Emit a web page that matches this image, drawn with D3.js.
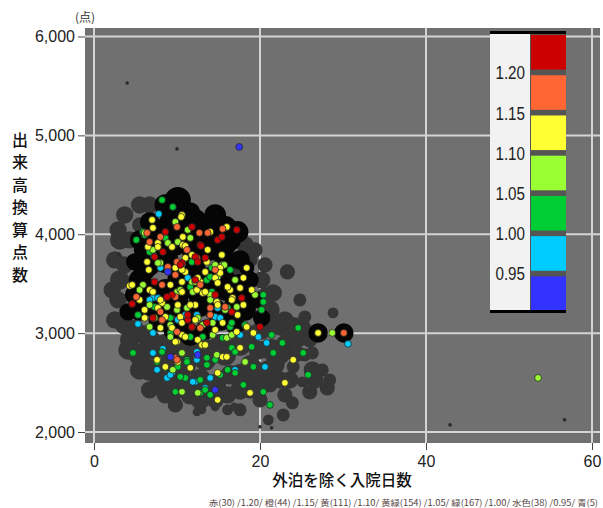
<!DOCTYPE html>
<html>
<head>
<meta charset="utf-8">
<script src="https://cdn.jsdelivr.net/npm/d3@7"></script>
<style>
body{margin:0;background:#fff;}
svg{display:block;font-family:"Liberation Sans",Arial,sans-serif;}
</style>
</head>
<body>
<svg id="chart" width="603" height="508"></svg>
<script>
// axis ticks
var xTicks = [0, 20, 40, 60];
var yTicks = [2000, 3000, 4000, 5000, 6000];

// legend
var legendColors = ["#cc0000", "#ff6633", "#ffff33", "#99ff33", "#00cc33", "#00ccff", "#3333ff"];
var legendBreaks = ["1.20", "1.15", "1.10", "1.05", "1.00", "0.95"];
var footnote = "赤(30) /1.20/ 橙(44) /1.15/ 黄(111) /1.10/ 黄緑(154) /1.05/ 緑(167) /1.00/ 水色(38) /0.95/ 青(5)";

// background bubbles [days, points, weight]
var grayBubbles = [
	[3.1,3943,81],[2.5,3740,64],[3.1,3538,81],[2.9,3336,64],[3.7,3083,81],[4.3,2932,81],[5.5,2780,100],
	[6.7,2628,100],[8.0,2477,100],[8.6,2376,64],[9.8,2426,81],[11.6,2376,81],[12.8,2325,81],[14.6,2325,64],
	[16.1,2376,64],[17.6,2426,81],[18.8,2426,64],[19.8,2477,100],[21.0,2628,81],[21.4,2830,100],[23.0,2881,81],
	[23.6,2982,64],[24.6,2932,49],[25.1,3053,64],[26.0,2932,49],[24.2,2780,49],[25.4,2780,36],[26.3,2628,64],
	[26.6,2527,64],[26.0,2406,49],[21.0,2123,25],[14.6,2254,16],[13.0,2224,16],[23.3,3619,49],[25.4,3164,36],
	[20.2,3033,81],[21.8,3083,64],[19.8,2830,81],[15.8,2780,100],[13.4,2730,100],[11.0,2679,100],[9.2,2730,81],
	[7.3,2830,81],[6.1,2982,81],[16.4,2578,81],[18.8,2679,81],[21.2,2477,49],[23.0,2376,49],[23.6,2527,64],
	[17.6,2224,36],[16.1,2224,25],[22.8,2173,36],[6.7,4296,64],[5.5,4094,49],[4.3,3943,64],[3.7,3690,64],
	[17.6,3640,49],[18.2,3892,64],[18.8,3740,49],[20.2,3538,64],[20.6,3387,49],[24.8,3336,36],[28.8,3205,25],
	[27.5,2628,36],[28.4,2527,36],[28.1,2446,49],[23.9,2295,36],[26.3,2800,36],[24.0,2659,36],[25.1,2507,25],
	[21.6,3406,64],[22.4,3063,64],[23.5,2962,64],[24.6,2790,49],[21.6,2527,49],[19.8,2466,49],[18.8,2406,36],
	[12.4,2203,16],[16.0,2224,16],[16.9,2254,16],
	[4.9,3033,81],[6.7,2932,100],[8.6,2881,100],[11.0,2830,100],[12.8,2881,100],[15.2,2881,100],[17.6,2881,100],
	[18.8,2982,81],[8.6,2629,100],[10.4,2527,100],[12.8,2527,100],[14.6,2477,100],[17.6,2578,100],[19.4,2629,81],
	[21.8,2679,81],[22.4,2527,64],[20.0,2325,49],[9.8,2274,49],[6.7,2426,64],[5.5,2628,81],[4.1,2830,81],
	[2.5,3134,64],[2.2,3437,64],[2.9,4044,64],[3.7,4195,64],[5.5,4296,64],[19.4,3842,49],[20.6,3690,49],
	[21.2,3235,81],[23.0,3134,64],[24.2,3083,49],[22.4,2780,81]
];
var blackBubbles = [
	[8.6,4296,100],[10.1,4347,144],[11.6,4226,81],[12.8,4064,100],[14.2,4024,81],[15.8,4064,121],[17.3,4024,100],
	[6.7,4125,81],[5.5,3943,81],[4.9,3720,64],[5.5,3538,100],[4.9,3387,81],[4.1,3215,64],[6.7,3285,100],
	[8.0,3134,121],[9.8,3033,121],[11.6,2982,100],[13.4,3033,81],[15.2,3134,100],[17.0,3285,100],[18.2,3387,81],
	[18.8,3538,64],[14.0,3538,144],[10.4,3538,144],[8.6,3740,144],[12.2,3791,144],[15.8,3720,100],[17.6,3740,81],
	[19.4,3336,64],[20.2,3154,64],[17.0,3083,81],[27.0,3002,81],[30.1,3002,81],[15.7,3872,100],[12.8,3912,100],
	[7.3,3943,100],[11.0,4044,100],[9.8,3336,144],[12.8,3285,121],[6.7,3690,100],[18.4,3660,49],
	[6.1,3842,100],[8.0,3892,100],[9.8,3892,100],[11.6,3892,100],[14.0,3842,100],[16.4,3943,100],[6.1,3640,100],
	[12.2,3640,100],[15.8,3538,100],[17.6,3488,100],[6.7,3437,100],[8.6,3437,100],[12.2,3437,100],[15.8,3437,100],
	[5.5,3235,100],[8.6,3235,100],[11.0,3184,100],[14.6,3235,100],[16.4,3184,100],[18.2,3235,100],[9.2,4195,100],
	[12.2,4145,100],[8.0,4044,100],[9.8,4044,100],[14.6,4195,100]
];
var tinyDots = [[4.0,5530],[10.0,4863],[42.9,2072],[56.7,2123],[21.4,2042],[20.0,2052],[3.0,3801]];

// coloured hospitals [days, points]
var red = [
	[8.6,4024],[11.8,4074],[14.9,3943],[15.4,3973],[17.2,4044],[8.3,3821],[12.8,3892],[13.4,3761],[7.3,3771],
	[10.6,3710],[12.2,3538],[17.8,3356],[16.6,3215],[9.4,3387],[4.6,3295],[11.3,3134],[13.6,3104],[20.0,3063],
	[7.1,3154],[11.3,3184],[11.8,3063],[12.9,3882],[12.2,3771],[8.8,3366],[10.4,3690],[14.6,3387],[7.3,3518],
	[12.5,3720]
];
var orange = [
	[6.4,4014],[10.0,4074],[12.7,4014],[13.7,4014],[15.5,4054],[6.7,3922],[11.2,3842],[12.4,3761],[8.9,3670],
	[9.8,3366],[5.1,3366],[15.8,3265],[8.0,3215],[12.8,3053],[30.1,3002],[8.2,3134],[14.0,3184],[10.0,3013],
	[9.8,2750],[10.0,2730],[8.0,3973],[10.0,3720],[14.0,3255],[9.8,3589],[12.8,3488],[14.6,3640],[8.2,3488]
];
var yellow = [
	[10.6,4195],[7.0,4145],[7.1,4064],[14.0,4024],[16.0,4074],[6.5,3872],[7.7,3912],[9.4,3872],[10.7,3892],
	[11.8,3791],[15.2,3660],[6.6,3640],[9.8,3660],[11.0,3619],[12.8,3518],[14.6,3559],[15.2,3609],[16.4,3437],
	[17.6,3457],[18.4,3660],[18.0,3559],[19.0,3437],[16.7,3356],[18.0,3285],[14.8,3316],[13.1,3407],[12.4,3437],
	[10.6,3417],[5.5,3336],[4.3,3478],[6.7,3437],[8.2,3305],[8.6,3164],[10.4,3164],[12.5,2932],[13.0,2881],
	[14.6,3033],[15.5,3104],[17.2,3013],[19.2,3002],[24.0,2730],[27.0,3002],[23.0,2497],[18.8,2396],[14.9,2325],
	[14.9,2598],[15.5,2760],[11.6,2649],[7.6,2730],[9.4,3053],[10.0,2912],[10.6,2982],[6.1,3154],[10.6,3104],
	[17.6,2851],[18.4,3063],[10.5,4175],[11.0,3882],[10.7,3973],[7.7,3255],[10.1,3285],[12.2,3285],[14.9,3285],
	[8.0,3053],[12.2,3134],[11.0,2962],[13.4,2881],[9.8,2912],[10.1,2709],[8.6,2659],[16.0,2760],[7.7,3872],
	[10.6,3640],[13.6,3720],[12.5,3559],[4.6,3488],[10.6,3518],[7.1,3417],[13.4,3417],[16.1,3467],
	[6.4,3720],[9.2,3488],[11.0,3761],[13.4,3619],[14.9,3508],[16.6,3336],[8.0,3336],[6.1,3235],[11.6,3285],
	[13.7,3842],[15.4,3791],[17.3,3184]
];
var yellowGreen = [
	[11.3,4044],[10.1,3922],[15.5,3690],[8.0,3710],[19.4,3387],[17.2,3265],[14.0,3387],[5.9,3488],[8.8,3265],
	[10.0,3235],[14.3,3104],[18.2,2709],[8.2,3134],[9.2,2962],[6.7,3063],[16.0,2952],[6.7,3285],[11.2,3255],
	[9.2,3083],[13.1,3083],[14.3,2982],[16.6,2982],[10.6,2800],[14.8,2780],[9.5,2629],[12.5,2396],[6.1,4014],
	[8.9,3912],[14.6,3690],[14.9,3569],[11.8,3518],[11.9,3417],[28.7,3002],[53.5,2547],[10.6,2406],[15.7,3690],
	[7.7,3710],[10.0,3417],[7.1,3842],[8.9,3640],[10.4,3437],[12.2,3518],[14.0,3336],[15.8,3235],[5.5,3437],
	[7.3,3154],[12.5,3154],[17.0,3538],[9.8,4125],[11.6,3963]
];
var green = [
	[8.2,4347],[9.5,4276],[5.9,4024],[5.1,3943],[6.7,3821],[14.2,3660],[13.6,3538],[11.6,3467],[7.3,3265],
	[11.8,3063],[13.1,2962],[16.4,3063],[20.4,3387],[20.4,3316],[20.2,3235],[21.4,2982],[22.7,2901],[21.6,2800],
	[24.6,3053],[25.2,2800],[25.8,2578],[21.2,2274],[20.4,2406],[18.0,2477],[12.8,2396],[13.4,2426],[11.0,2547],
	[17.0,2598],[19.2,2659],[14.6,2730],[13.6,2679],[11.2,2730],[10.1,2659],[8.6,2649],[8.2,2810],[4.7,2800],
	[11.6,2962],[5.3,3184],[16.6,2851],[19.0,2861],[16.1,3255],[16.6,3104],[9.2,3002],[15.5,2952],[11.2,2709],
	[13.6,2750],[17.0,2810],[7.6,2709],[10.4,2558],[12.8,2527],[15.2,2578],[16.1,2629],[9.8,2406],[14.0,2376],
	[11.8,3720],[14.0,3569],[14.2,3417],[6.1,3993],[8.6,3963],[16.4,3640],[9.2,3154],[18.2,3083]
];
var cyan = [
	[7.8,4205],[7.2,3781],[11.3,3559],[14.9,3255],[7.1,3356],[7.7,3356],[11.0,3184],[12.4,3184],[14.6,3164],
	[17.6,2982],[19.8,2962],[20.8,2901],[30.6,2891],[12.2,2507],[14.0,2547],[17.0,2629],[20.6,2659],[12.4,2730],
	[9.4,2598],[8.8,2547],[7.6,2629],[7.1,2800],[5.3,3093],[7.1,3002],[10.1,3134],[15.2,3154],[8.3,2841],
	[12.4,2810],[9.2,2578],[11.9,2507],[13.4,2446],[8.0,3660],[6.7,3336]
];
var blue = [[17.5,4883],[8.9,3619],[14.6,2426],[12.5,2780],[9.2,2760]];

var series = [
	{data: cyan, color: legendColors[5]},
	{data: green, color: legendColors[4]},
	{data: yellowGreen, color: legendColors[3]},
	{data: yellow, color: legendColors[2]},
	{data: orange, color: legendColors[1]},
	{data: red, color: legendColors[0]},
	{data: blue, color: legendColors[6]}
];

var svg = d3.select("#chart");
var panel = {left: 85, top: 28, right: 600, bottom: 443};

var x = d3.scaleLinear().domain([0, 60]).range([94, 592]);
var y = d3.scaleLinear().domain([2000, 6000]).range([432, 36.5]);
var r = d3.scaleSqrt().domain([0, 144]).range([0, 13]);

// panel
svg.append("rect")
	.attr("x", panel.left).attr("y", panel.top)
	.attr("width", panel.right - panel.left).attr("height", panel.bottom - panel.top)
	.attr("fill", "#707070");

svg.selectAll(".gx").data(xTicks).enter().append("line")
	.attr("class", "gx")
	.attr("x1", function (d) {return x(d);}).attr("x2", function (d) {return x(d);})
	.attr("y1", panel.top).attr("y2", panel.bottom)
	.attr("stroke", "#d4d4d4").attr("stroke-width", 2);

svg.selectAll(".gy").data(yTicks).enter().append("line")
	.attr("class", "gy")
	.attr("y1", function (d) {return y(d);}).attr("y2", function (d) {return y(d);})
	.attr("x1", panel.left).attr("x2", panel.right)
	.attr("stroke", "#d4d4d4").attr("stroke-width", 2);

// bubbles
svg.append("g").selectAll("circle").data(grayBubbles).enter().append("circle")
	.attr("cx", function (d) {return x(d[0]);})
	.attr("cy", function (d) {return y(d[1]);})
	.attr("r", function (d) {return r(d[2]);})
	.attr("fill", "#353535");

svg.append("g").selectAll("circle").data(blackBubbles).enter().append("circle")
	.attr("cx", function (d) {return x(d[0]);})
	.attr("cy", function (d) {return y(d[1]);})
	.attr("r", function (d) {return r(d[2]);})
	.attr("fill", "#050505");

svg.append("g").selectAll("circle").data(tinyDots).enter().append("circle")
	.attr("cx", function (d) {return x(d[0]);})
	.attr("cy", function (d) {return y(d[1]);})
	.attr("r", 1.8)
	.attr("fill", "#2a2a2a");

// coloured dots
series.forEach(function (s) {
	svg.append("g").selectAll("circle").data(s.data).enter().append("circle")
		.attr("cx", function (d) {return x(d[0]);})
		.attr("cy", function (d) {return y(d[1]);})
		.attr("r", 3.4)
		.attr("fill", s.color)
		.attr("stroke", "#262626")
		.attr("stroke-width", 0.8);
});

// axes
var xAxis = svg.append("g")
	.attr("transform", "translate(0," + panel.bottom + ")")
	.call(d3.axisBottom(x).tickValues(xTicks).tickSize(7).tickPadding(6));
var yAxis = svg.append("g")
	.attr("transform", "translate(" + panel.left + ",0)")
	.call(d3.axisLeft(y).tickValues(yTicks).tickSize(7).tickPadding(3).tickFormat(d3.format(",")));
[xAxis, yAxis].forEach(function (a) {
	a.select(".domain").remove();
	a.selectAll(".tick line").attr("stroke", "#444");
	a.selectAll(".tick text").attr("fill", "#222")
		.style("font-size", "16px").style("font-family", "'Liberation Sans', Arial, sans-serif");
});

// legend
var band = d3.scaleBand().domain(d3.range(legendColors.length)).range([35, 311]).paddingInner(0.14);
var lg = svg.append("g");
lg.append("rect").attr("x", 490).attr("y", 33).attr("width", 40).attr("height", 279).attr("fill", "#f2f2f2");
lg.append("rect").attr("x", 530).attr("y", 33).attr("width", 36).attr("height", 279).attr("fill", "#555");
lg.selectAll(".sw").data(legendColors).enter().append("rect")
	.attr("class", "sw")
	.attr("x", 531).attr("width", 35)
	.attr("y", function (d, i) {return band(i);})
	.attr("height", band.bandwidth())
	.attr("fill", function (d) {return d;});
lg.append("rect").attr("x", 490).attr("y", 31).attr("width", 76).attr("height", 3).attr("fill", "#000");
lg.append("rect").attr("x", 490).attr("y", 310).attr("width", 76).attr("height", 3).attr("fill", "#000");
lg.selectAll(".lb").data(legendBreaks).enter().append("text")
	.attr("class", "lb")
	.attr("transform", function (d, i) {
		var yy = band(i) + band.bandwidth() + (band.step() - band.bandwidth()) / 2;
		return "translate(525," + yy + ") scale(0.8,1)";
	})
	.attr("text-anchor", "end")
	.attr("dy", "0.36em")
	.attr("fill", "#222")
	.style("font-size", "19px")
	.text(function (d) {return d;});

// titles
var jp = "'Noto Sans CJK JP', sans-serif";
svg.append("text").attr("x", 85).attr("y", 22).attr("text-anchor", "middle")
	.style("font-family", jp).style("font-size", "12px").attr("fill", "#333").text("(点)");

var yTitle = "出来高換算点数".split("");
svg.append("g").selectAll("text").data(yTitle).enter().append("text")
	.attr("x", 20)
	.attr("y", function (d, i) {return 140 + i * 22.5;})
	.attr("dy", "0.35em")
	.attr("text-anchor", "middle")
	.style("font-family", jp).style("font-size", "16px").style("font-weight", 500).attr("fill", "#111")
	.text(function (d) {return d;});

svg.append("text").attr("x", 342).attr("y", 481).attr("dy", "0.35em").attr("text-anchor", "middle")
	.style("font-family", jp).style("font-size", "15.5px").style("font-weight", 500).attr("fill", "#111")
	.text("外泊を除く入院日数");

svg.append("text").attr("x", 209).attr("y", 506)
	.attr("textLength", 389).attr("lengthAdjust", "spacingAndGlyphs")
	.style("font-family", jp).style("font-size", "8.5px").attr("fill", "#554444")
	.text(footnote);
</script>
</body>
</html>
